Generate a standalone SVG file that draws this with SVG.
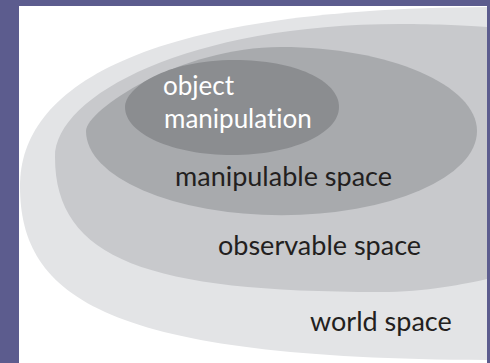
<svg xmlns="http://www.w3.org/2000/svg" width="490" height="363" viewBox="0 0 490 363">
  <style>
    .lbl { font-family: Lato, "Open Sans", "Liberation Sans", sans-serif; font-size: 27px; fill: #231f20; font-variant-ligatures: none; }
    .lbl-inv { fill: #ffffff; font-size: 26px; }
  </style>
  <defs>
    <clipPath id="panel-clip">
      <rect x="19" y="6" width="468" height="357"/>
    </clipPath>
  </defs>

  <!-- frame and white panel -->
  <rect x="0" y="0" width="490" height="363" fill="#5c5c8e"/>
  <rect x="19" y="6" width="468" height="357" fill="#ffffff"/>

  <g clip-path="url(#panel-clip)">
    <g id="world-space">
      <path d="M20,186 C20,88 140,7 500,7 L500,360 C110,360 20,300 20,186 Z" fill="#e3e4e6"/>
      <text class="lbl" x="310" y="331">world space</text>
    </g>
    <g id="observable-space">
      <path d="M55,157 C55,95 190,24 400,24 C450,24 490,27 500,28 L500,276 C490,278 440,292 380,292 C150,292 55,260 55,157 Z" fill="#c8c9cc"/>
      <text class="lbl" x="218" y="255">observable space</text>
    </g>
    <g id="manipulable-space">
      <path d="M86,131 C86,110 180,47 281,47 C389,47 477,85 477,131 A195,84 0 0 1 86,131 Z" fill="#a8aaad"/>
      <text class="lbl" x="175" y="186">manipulable space</text>
    </g>
    <g id="object-manipulation">
      <path d="M125,107 C125,88 165,60 235,60 C294,60 339,80 339,107 C339,134 291,155 232,155 C173,155 125,134 125,107 Z" fill="#8b8d90"/>
      <text class="lbl lbl-inv" x="163" y="95">object</text>
      <text class="lbl lbl-inv" x="164" y="128">manipulation</text>
    </g>
  </g>

  <!-- no connectors in this diagram -->
  <g id="connectors"/>
</svg>
